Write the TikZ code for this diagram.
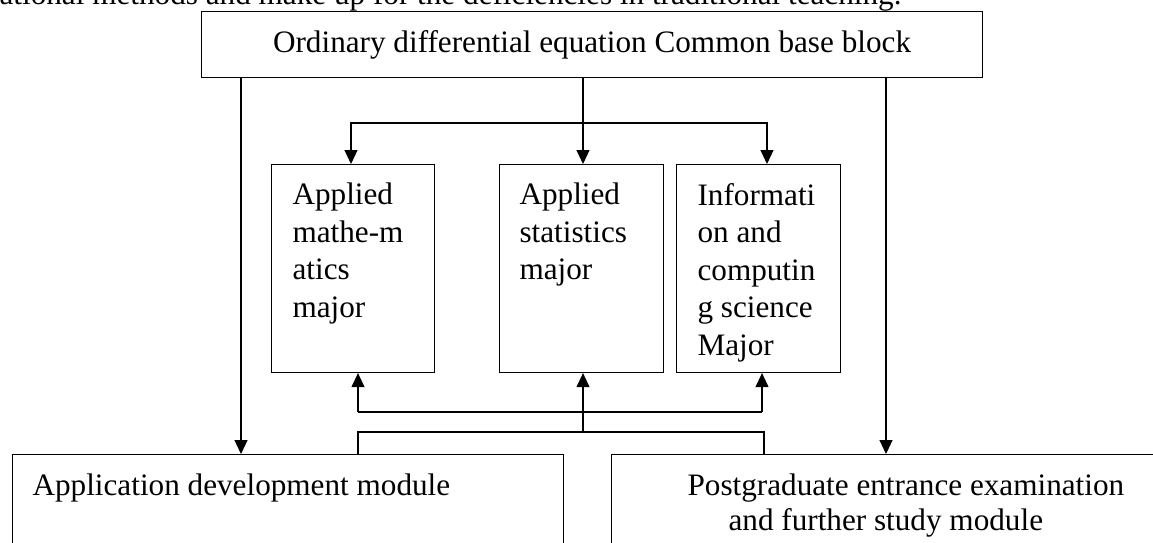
\documentclass[tikz,border=0pt]{standalone}
\usepackage{fontspec}
\setmainfont{Liberation Serif}
\usetikzlibrary{positioning,arrows.meta}

\tikzset{
	box/.style={draw,rectangle,inner sep=0pt,anchor=north west},
	boxtext/.style={inner sep=0pt,align=left},
}

\begin{document}
\begin{tikzpicture}[x=1pt,y=-1pt,line width=1.1pt,>={Triangle[length=14pt,width=13pt]},
		font=\fontsize{31.2}{37.5}\selectfont]
		\useasboundingbox (0,0) rectangle (1153,542);
		
		% Line of text above, cut by the page edge
		\node[boxtext,anchor=base west] (cut) at (-1,4) {ational methods and make up for the deficiencies in traditional teaching.};
		
		% Define the boxes
		\node[box,minimum width=781pt,minimum height=66pt] (base) at (201,11) {Ordinary differential equation Common base block};
		\node[box,minimum width=163pt,minimum height=208pt] (amath) at (271,164) {};
		\node[box,minimum width=164pt,minimum height=208pt] (astat) at (499,164) {};
		\node[box,minimum width=164pt,minimum height=208pt] (info) at (676,164) {};
		\node[box,minimum width=551pt,minimum height=150pt] (appdev) at (12,454) {};
		\node[box,minimum width=600pt,minimum height=150pt] (pgrad) at (611,454) {};
		
		% Texts of the boxes
		\node[boxtext,below right=18.5pt and 21pt of amath.north west] (amathtext) {Applied\\mathe-m\\atics\\major};
		\node[boxtext,below right=18.5pt and 20pt of astat.north west] (astattext) {Applied\\statistics\\major};
		\node[boxtext,below right=18.5pt and 21pt of info.north west] (infotext) {Informati\\on and\\computin\\g science\\Major};
		\node[boxtext,below right=19.5pt and 20pt of appdev.north west] (appdevtext) {Application development module};
		\node[boxtext,below right=19.5pt and 76pt of pgrad.north west,font=\fontsize{31.2}{35}\selectfont] (pgradtext) {Postgraduate entrance examination\\\hspace*{41pt}and further study module};
		
		% Define the connector coordinates
		\coordinate (leftdrop) at (241,0);
		\coordinate (rightdrop) at (886,0);
		\coordinate (middrop) at (583,0);
		\coordinate (fork) at (583,123);
		\coordinate (amathin) at (351,0);
		\coordinate (infoin) at (767,0);
		\coordinate (amathup) at (358,0);
		\coordinate (infoup) at (762,0);
		\coordinate (rightfoot) at (764,0);
		\coordinate (railA) at (0,412);
		\coordinate (railB) at (0,432);
		
		% Draw the connectors from the common block
		\draw[->] (leftdrop |- base.south) -- (leftdrop |- appdev.north);
		\draw[->] (rightdrop |- base.south) -- (rightdrop |- pgrad.north);
		\draw[->] (middrop |- base.south) -- (middrop |- astat.north);
		\draw[->] (fork) -| (amathin |- amath.north);
		\draw[->] (fork) -| (infoin |- info.north);
		
		% Draw the connectors from the modules
		\draw (amathup |- railA) -- (infoup |- railA);
		\draw[->] (amathup |- railA) -- (amathup |- amath.south);
		\draw[->] (infoup |- railA) -- (infoup |- info.south);
		\draw[->] (middrop |- railB) -- (middrop |- astat.south);
		\draw (amathup |- appdev.north) -- (amathup |- railB) -- (rightfoot |- railB) -- (rightfoot |- pgrad.north);
		
	\end{tikzpicture}
\end{document}
